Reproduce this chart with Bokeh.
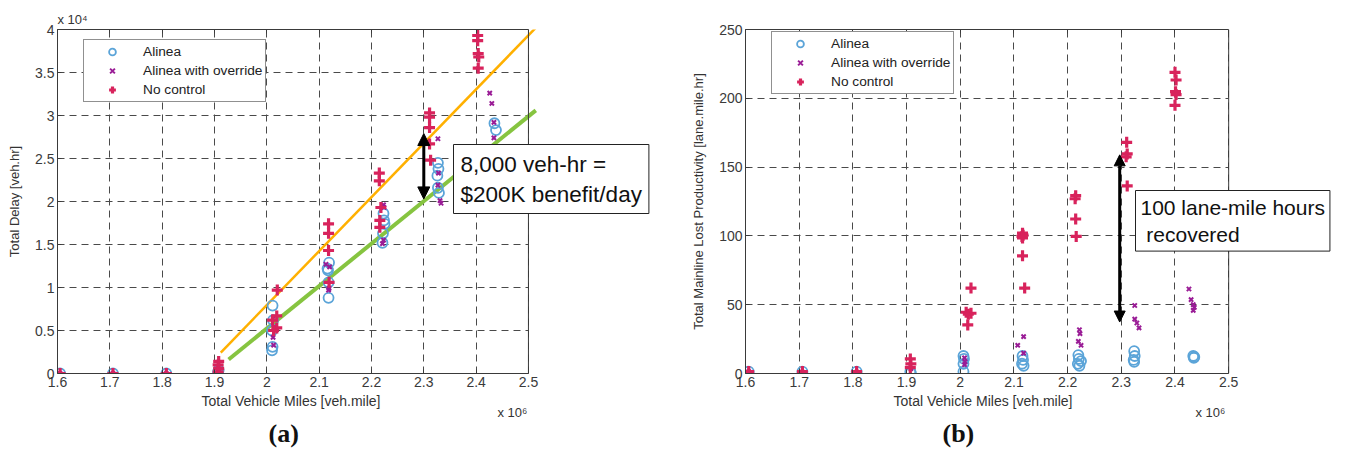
from bokeh.plotting import figure
from bokeh.models import (Range1d, Legend, LegendItem, Label, Arrow, NormalHead, FixedTicker,
                          Title, LinearAxis, Span)
from bokeh.layouts import row
from bokeh.embed import file_html
from bokeh.resources import INLINE

# ---------------- data: panel (a) Total Delay (x 10^4 veh.hr) vs VMT (x 10^6) ----------------
a_alinea_x = [1.605, 1.706, 1.808, 1.907, 1.907, 1.908,
              2.011, 2.012, 2.010, 2.011, 2.010,
              2.119, 2.116, 2.117, 2.118, 2.118,
              2.223, 2.224, 2.225, 2.222, 2.221,
              2.327, 2.328, 2.326, 2.327, 2.329,
              2.435, 2.438, 2.436, 2.434]
a_alinea_y = [0.0, 0.0, 0.0, 0.0, 0.02, 0.04,
              0.79, 0.62, 0.50, 0.31, 0.27,
              1.29, 1.22, 1.20, 1.06, 0.88,
              1.86, 1.78, 1.74, 1.63, 1.52,
              2.45, 2.38, 2.30, 2.16, 2.10,
              2.91, 2.83, 2.60, 2.50]

a_override_x = [1.605, 1.706, 1.808, 1.907, 1.908, 1.907,
                2.012, 2.014, 2.012, 2.013,
                2.113, 2.120, 2.119, 2.118,
                2.223, 2.224, 2.223, 2.221,
                2.327, 2.328, 2.327, 2.331, 2.333,
                2.426, 2.430, 2.434, 2.434]
a_override_y = [0.0, 0.0, 0.0, 0.02, 0.05, 0.08,
                0.64, 0.53, 0.42, 0.33,
                1.27, 1.24, 0.99, 0.97,
                1.96, 1.93, 1.55, 1.51,
                2.73, 2.33, 2.19, 2.01, 1.98,
                3.26, 3.14, 2.92, 2.74]

a_nocontrol_x = [1.605, 1.706, 1.808, 1.907, 1.908, 1.907, 1.908,
                 2.020, 2.019, 2.011, 2.019, 2.013,
                 2.118, 2.118, 2.118, 2.119,
                 2.215, 2.215, 2.218, 2.216, 2.216,
                 2.311, 2.311, 2.311, 2.311, 2.313,
                 2.403, 2.403, 2.404, 2.405, 2.404]
a_nocontrol_y = [0.0, 0.0, 0.0, 0.02, 0.06, 0.10, 0.14,
                 0.97, 0.67, 0.62, 0.53, 0.50,
                 1.74, 1.63, 1.43, 1.06,
                 2.33, 2.24, 1.93, 1.78, 1.70,
                 3.03, 2.98, 2.86, 2.67, 2.48,
                 3.93, 3.87, 3.72, 3.68, 3.55]

a_fit_orange_x = [1.912, 2.514]
a_fit_orange_y = [0.244, 4.02]
a_fit_green_x = [1.927, 2.514]
a_fit_green_y = [0.163, 3.06]
a_arrow_x = 2.300
a_arrow_y = [2.03, 2.79]
a_note = "8,000 veh-hr =\n$200K benefit/day"

# ---------------- data: panel (b) Lost productivity [lane.mile.hr] ----------------
b_alinea_x = [1.606, 1.706, 1.807, 1.907, 1.908,
              2.006, 2.007, 2.006, 2.006,
              2.116, 2.117, 2.115, 2.118,
              2.220, 2.221, 2.225, 2.219, 2.222,
              2.324, 2.325, 2.323, 2.324,
              2.434, 2.435, 2.436]
b_alinea_y = [1.4, 1.4, 1.4, 1.4, 0.5,
              12.7, 10.6, 7.0, 1.4,
              12.7, 9.9, 7.1, 5.6,
              13.4, 10.6, 9.0, 7.0, 5.6,
              16.2, 12.7, 9.9, 8.5,
              12.7, 11.3, 12.0]

b_override_x = [1.606, 1.706, 1.807, 1.907, 1.908,
                2.008, 2.009, 2.008,
                2.118, 2.107, 2.118,
                2.222, 2.223, 2.220, 2.225,
                2.325, 2.325, 2.329, 2.333,
                2.426, 2.430, 2.434, 2.436, 2.434]
b_override_y = [1.4, 1.0, 1.0, 5.6, 3.5,
                11.3, 8.5, 6.4,
                26.8, 20.5, 14.8,
                31.8, 29.0, 23.3, 20.5,
                49.4, 39.5, 36.7, 33.2,
                61.4, 53.7, 50.1, 48.0, 45.9]

b_nocontrol_x = [1.606, 1.706, 1.807, 1.907, 1.908, 1.907,
                 2.020, 2.011, 2.020, 2.015, 2.014,
                 2.116, 2.117, 2.115, 2.116, 2.116, 2.120,
                 2.215, 2.214, 2.215, 2.216,
                 2.310, 2.311, 2.309, 2.311,
                 2.400, 2.402, 2.401, 2.402, 2.400]
b_nocontrol_y = [1.4, 1.4, 1.4, 10.6, 7.0, 4.2,
                 62.1, 44.5, 43.8, 43.1, 35.3,
                 102.0, 100.5, 99.6, 98.5, 85.5, 62.1,
                 129.2, 127.0, 112.3, 99.6,
                 168.0, 159.6, 157.5, 136.3,
                 218.9, 213.3, 204.8, 202.7, 194.9]

b_arrow_x = 2.297
b_arrow_y = [37.4, 158.9]
b_note = "100 lane-mile hours\n\u00a0recovered"

x_ticks = [1.6, 1.7, 1.8, 1.9, 2.0, 2.1, 2.2, 2.3, 2.4, 2.5]
x_tick_labels = ["1.6", "1.7", "1.8", "1.9", "2", "2.1", "2.2", "2.3", "2.4", "2.5"]
a_y_ticks = [0, 0.5, 1, 1.5, 2, 2.5, 3, 3.5, 4]
a_y_tick_labels = ["0", "0.5", "1", "1.5", "2", "2.5", "3", "3.5", "4"]
b_y_ticks = [0, 50, 100, 150, 200, 250]
b_y_tick_labels = ["0", "50", "100", "150", "200", "250"]
series_names = ["Alinea", "Alinea with override", "No control"]
x_axis_title = "Total Vehicle Miles [veh.mile]"
X_MIN, X_MAX = 1.6, 2.5

FONT = "Liberation Sans"
C_ALINEA = "#5ba4d8"
C_OVERRIDE = "#9a1c96"
C_NOCTRL = "#d8235c"
GRID_C = "#4a4a4a"
FRAME_C = "#3a3a3a"
H = 459


def make_fig(width, bl, br, bt, bb, x_view_end, yend, yticks, ylabels, ylabel, ylabel_standoff):
    # the plotting frame is wider than the axes box so that the note boxes can overhang it
    p = figure(width=width, height=H, x_range=Range1d(X_MIN, x_view_end), y_range=Range1d(0, yend),
               output_backend="svg", toolbar_location=None,
               min_border_left=bl, min_border_right=br, min_border_top=bt, min_border_bottom=bb)
    p.background_fill_color = "white"
    p.border_fill_color = "white"
    p.outline_line_color = None
    for ax in (p.xaxis[0], p.yaxis[0]):
        ax.major_tick_in = 4
        ax.major_tick_out = 0
        ax.minor_tick_line_color = None
        ax.axis_line_color = FRAME_C
        ax.major_tick_line_color = FRAME_C
        ax.major_label_text_font = FONT
        ax.major_label_text_font_size = "14px"
        ax.major_label_text_color = "#3a3a3a"
        ax.axis_label_text_font = FONT
        ax.axis_label_text_font_style = "normal"
        ax.axis_label_text_color = "#333333"
    p.xaxis.bounds = (X_MIN, X_MAX)
    p.xaxis.ticker = FixedTicker(ticks=x_ticks)
    p.xaxis.major_label_overrides = dict(zip(x_ticks, x_tick_labels))
    p.xaxis.major_label_standoff = 3
    p.yaxis.ticker = FixedTicker(ticks=yticks)
    p.yaxis.major_label_overrides = dict(zip(yticks, ylabels))
    p.yaxis.major_label_standoff = 3
    p.yaxis.axis_label = ylabel
    p.yaxis.axis_label_text_font_size = "13px"
    p.yaxis.axis_label_standoff = ylabel_standoff
    p.grid.grid_line_color = GRID_C
    p.grid.grid_line_dash = "7 5"
    p.grid.grid_line_width = 1
    ok = False
    try:
        p.ygrid[0].cross_bounds = (X_MIN, X_MAX)
        ok = True
    except Exception:
        ok = False
    if not ok:
        p.ygrid.visible = False
        p.segment(x0=[X_MIN] * len(yticks), x1=[X_MAX] * len(yticks), y0=yticks, y1=yticks,
                  line_color=GRID_C, line_dash="7 5", line_width=1)
    top = LinearAxis(ticker=FixedTicker(ticks=x_ticks), bounds=(X_MIN, X_MAX),
                     major_label_text_font_size="0px", major_label_text_color=None,
                     major_label_standoff=0, major_tick_in=4, major_tick_out=0,
                     minor_tick_line_color=None, axis_line_color=FRAME_C,
                     major_tick_line_color=FRAME_C)
    p.add_layout(top, "above")
    p.add_layout(Span(location=X_MAX, dimension="height", line_color=FRAME_C, line_width=1))
    return p


def add_series(p, ax, ay, ox, oy, nx, ny, legend_loc):
    r1 = p.scatter(ax, ay, marker="circle", size=10, fill_color=None,
                   line_color=C_ALINEA, line_width=1.8)
    r2 = p.scatter(ox, oy, marker="x", size=6, line_color=C_OVERRIDE, line_width=2)
    r3 = p.scatter(nx, ny, marker="cross", size=11, line_color=C_NOCTRL, line_width=3.2)
    leg = Legend(items=[LegendItem(label=series_names[0], renderers=[r1]),
                        LegendItem(label=series_names[1], renderers=[r2]),
                        LegendItem(label=series_names[2], renderers=[r3])],
                 location=legend_loc)
    leg.border_line_color = "#222222"
    leg.border_line_width = 1
    leg.background_fill_color = "white"
    leg.background_fill_alpha = 1
    leg.label_text_font = FONT
    leg.label_text_font_size = "13.7px"
    leg.label_text_color = "#222222"
    leg.glyph_width = 50
    leg.glyph_height = 17
    leg.label_height = 17
    leg.spacing = 2
    leg.padding = 3
    leg.margin = 0
    leg.label_standoff = 6
    p.add_layout(leg)


def add_note(p, x, y, text, size, pad):
    p.add_layout(Label(x=x, y=y, x_units="screen", y_units="screen", text=text,
                       text_font=FONT, text_font_size=size, text_color="#111111",
                       text_baseline="top", text_align="left", padding=pad,
                       border_line_color="#222222", border_line_width=1,
                       background_fill_color="white", background_fill_alpha=1))


def safe_title(**kw):
    try:
        return Title(**kw)
    except Exception:
        kw["standoff"] = 0
        return Title(**kw)


def add_below_titles(p, label_offset, mult_offset, cap_text, cap_offset):
    p.add_layout(safe_title(text=x_axis_title, align="left", offset=label_offset, text_font=FONT,
                            text_font_size="14px", text_font_style="normal",
                            text_color="#333333", standoff=3), "below")
    p.add_layout(safe_title(text="x 10\u2076", align="left", offset=mult_offset, text_font=FONT,
                            text_font_size="13px", text_font_style="normal",
                            text_color="#333333", standoff=-18), "below")
    p.add_layout(safe_title(text=cap_text, align="left", offset=cap_offset,
                            text_font="Liberation Serif", text_font_style="bold",
                            text_font_size="26px", text_color="#111111", standoff=13), "below")


# ---------------- panel (a) ----------------
pa = make_fig(668, 57, 4, 29, 86, 2.76, 4, a_y_ticks, a_y_tick_labels, "Total Delay [veh.hr]", 10)
pa.add_layout(Title(text="x 10\u2074", align="left", text_font=FONT, text_font_size="13px",
                    text_font_style="normal", text_color="#333333", standoff=5), "above")
pa.line(a_fit_orange_x, a_fit_orange_y, line_color="#ffb000", line_width=2.5)
pa.line(a_fit_green_x, a_fit_green_y, line_color="#86c440", line_width=4)
add_series(pa, a_alinea_x, a_alinea_y, a_override_x, a_override_y,
           a_nocontrol_x, a_nocontrol_y, (26, 271))
pa.add_layout(Arrow(x_start=a_arrow_x, y_start=a_arrow_y[0], x_end=a_arrow_x, y_end=a_arrow_y[1],
                    line_width=3, line_color="black",
                    start=NormalHead(size=12, fill_color="black", line_color="black"),
                    end=NormalHead(size=12, fill_color="black", line_color="black")))
add_note(pa, 396, 229, a_note, "22.5px", 7)
add_below_titles(pa, 144, 440, "(a)", 211)

# ---------------- panel (b) ----------------
pb = make_fig(678, 77, 4, 19, 86, 2.712, 250, b_y_ticks, b_y_tick_labels,
              "Total Mainline Lost Productivity [lane.mile.hr]", 10)
add_series(pb, b_alinea_x, b_alinea_y, b_override_x, b_override_y,
           b_nocontrol_x, b_nocontrol_y, (26, 279))
pb.add_layout(Arrow(x_start=b_arrow_x, y_start=b_arrow_y[0], x_end=b_arrow_x, y_end=b_arrow_y[1],
                    line_width=3, line_color="black",
                    start=NormalHead(size=11, fill_color="black", line_color="black"),
                    end=NormalHead(size=11, fill_color="black", line_color="black")))
add_note(pb, 390, 183, b_note, "21px", 5)
add_below_titles(pb, 148, 450, "(b)", 197)

layout = row(pa, pb)
open("out.html", "w").write(file_html(layout, INLINE))
